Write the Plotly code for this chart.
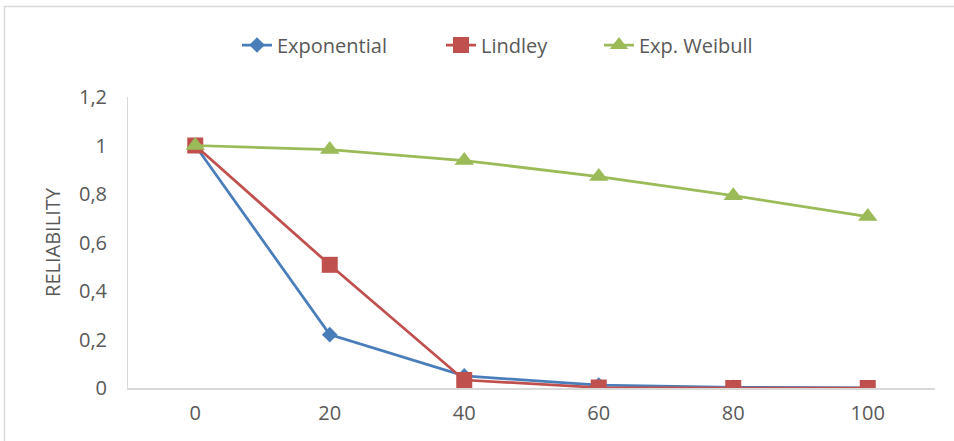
import plotly.graph_objects as go

# Mission time (x categories) and reliability of each model
times = ["0", "20", "40", "60", "80", "100"]
exponential = [1.0, 0.22, 0.05, 0.012, 0.003, 0.001]
lindley = [1.0, 0.508, 0.033, 0.002, 0.0, 0.0]
exp_weibull = [1.0, 0.983, 0.938, 0.872, 0.793, 0.707]

y_ticks = [0, 0.2, 0.4, 0.6, 0.8, 1.0, 1.2]
y_labels = ["0", "0,2", "0,4", "0,6", "0,8", "1", "1,2"]

W, H = 954, 441
L, R, T, B = 128, 19, 97, 53
pw, ph = W - L - R, H - T - B

FONT = "'Open Sans', Lato, sans-serif"
GREY = "#595959"
AXIS = "#D9D9D9"

fig = go.Figure()
fig.add_trace(go.Scatter(
    x=times, y=exponential, name="Exponential", mode="lines+markers",
    line=dict(color="#4A7EBB", width=2.75),
    marker=dict(symbol="diamond", size=12, color="#4A7EBB"),
    legend="legend", showlegend=True,
))
fig.add_trace(go.Scatter(
    x=times, y=lindley, name="Lindley", mode="lines+markers",
    line=dict(color="#C0504D", width=2.75),
    marker=dict(symbol="square", size=16, color="#C0504D"),
    legend="legend2", showlegend=True,
))
fig.add_trace(go.Scatter(
    x=times, y=exp_weibull, name="Exp. Weibull", mode="lines+markers",
    line=dict(color="#9BBB59", width=2.75),
    marker=dict(symbol="triangle-up", size=17, color="#9BBB59"),
    legend="legend3", showlegend=True,
))


def px_x(px):
    return (px - L) / pw


def px_y(py):
    return (H - B - py) / ph


def legend_box(text_left_px):
    # entries are placed so that their text starts at the given pixel column
    return dict(
        orientation="h", x=px_x(text_left_px - 41), y=px_y(45),
        xanchor="left", yanchor="middle",
        font=dict(size=20, color=GREY), itemclick=False,
        bgcolor="rgba(0,0,0,0)",
    )


fig.update_layout(
    width=W, height=H,
    margin=dict(l=L, r=R, t=T, b=B),
    paper_bgcolor="white", plot_bgcolor="white",
    font=dict(family=FONT, size=20, color=GREY),
    showlegend=True,
    legend=legend_box(278),
    legend2=legend_box(482),
    legend3=legend_box(640),
    xaxis=dict(
        type="category", range=[-0.5, 5.5],
        showgrid=False, zeroline=False,
        showline=True, linecolor=AXIS, linewidth=2,
        ticks="", tickfont=dict(size=20, color=GREY),
        ticklabelstandoff=6,
    ),
    yaxis=dict(
        range=[0, 1.2], tickvals=y_ticks, ticktext=y_labels,
        showgrid=False, zeroline=False,
        showline=True, linecolor=AXIS, linewidth=1,
        ticks="", tickfont=dict(size=20, color=GREY),
        ticklabelstandoff=16,
        title=dict(text="RELIABILITY", font=dict(size=20, color=GREY), standoff=12),
    ),
    shapes=[dict(
        type="rect", xref="paper", yref="paper",
        x0=px_x(4.5), x1=px_x(W + 10), y0=px_y(H + 10), y1=px_y(6.5),
        line=dict(color=AXIS, width=1.5), fillcolor="rgba(0,0,0,0)",
        layer="below",
    )],
)

fig.write_html("out.html")
